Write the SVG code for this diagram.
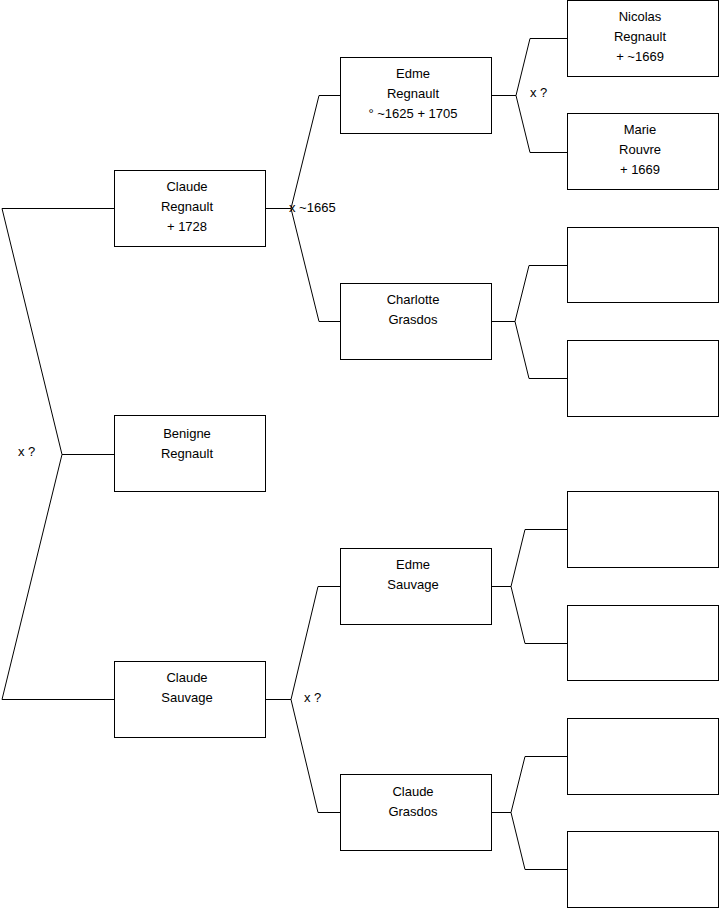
<svg xmlns="http://www.w3.org/2000/svg" width="719" height="908" viewBox="0 0 719 908">
<style>
.box{fill:#fff;stroke:#000;stroke-width:1}
.ln{fill:none;stroke:#000;stroke-width:1}
text{font-family:"Liberation Sans",Arial,sans-serif;font-size:13px;fill:#000}
.c{text-anchor:middle}
</style>
<rect width="719" height="908" fill="#fff"/>
<g id="connectors">
<path class="ln" d="M114,208.5 H2 L62,454.5 H114 M62,454.5 L2,699.5 H114"/>
<path class="ln" d="M265,208.5 H291 L319,95.5 H341 M291,208.5 L319,321.5 H341"/>
<path class="ln" d="M265,699.5 H291 L318,586.5 H341 M291,699.5 L318,812.5 H341"/>
<path class="ln" d="M491,95.5 H516 L530,38.5 H567 M516,95.5 L530,152.5 H567"/>
<path class="ln" d="M491,321.5 H515 L529,265.5 H567 M515,321.5 L529,378.5 H567"/>
<path class="ln" d="M491,586.5 H511 L525,529.5 H567 M511,586.5 L525,643.5 H567"/>
<path class="ln" d="M491,812.5 H511 L525,756.5 H567 M511,812.5 L525,869.5 H567"/>
<text x="289" y="212">x ~1665</text>
<text x="18" y="456">x ?</text>
<text x="530" y="97">x ?</text>
<text x="304" y="702">x ?</text>
</g>
<g id="claude-regnault"><rect class="box" x="114.5" y="170.5" width="151" height="76"/>
<text class="c" x="187" y="191">Claude</text><text class="c" x="187" y="211">Regnault</text><text class="c" x="187" y="231">+ 1728</text></g>
<g id="benigne-regnault"><rect class="box" x="114.5" y="415.5" width="151" height="76"/>
<text class="c" x="187" y="438">Benigne</text><text class="c" x="187" y="458">Regnault</text></g>
<g id="claude-sauvage"><rect class="box" x="114.5" y="661.5" width="151" height="76"/>
<text class="c" x="187" y="682">Claude</text><text class="c" x="187" y="702">Sauvage</text></g>
<g id="edme-regnault"><rect class="box" x="340.5" y="57.5" width="151" height="76"/>
<text class="c" x="413" y="78">Edme</text><text class="c" x="413" y="98">Regnault</text><text class="c" x="413" y="118">° ~1625 + 1705</text></g>
<g id="charlotte-grasdos"><rect class="box" x="340.5" y="283.5" width="151" height="76"/>
<text class="c" x="413" y="304">Charlotte</text><text class="c" x="413" y="324">Grasdos</text></g>
<g id="edme-sauvage"><rect class="box" x="340.5" y="548.5" width="151" height="76"/>
<text class="c" x="413" y="569">Edme</text><text class="c" x="413" y="589">Sauvage</text></g>
<g id="claude-grasdos"><rect class="box" x="340.5" y="774.5" width="151" height="76"/>
<text class="c" x="413" y="796">Claude</text><text class="c" x="413" y="816">Grasdos</text></g>
<g id="nicolas-regnault"><rect class="box" x="567.5" y="0.5" width="151" height="76"/>
<text class="c" x="640" y="21">Nicolas</text><text class="c" x="640" y="41">Regnault</text><text class="c" x="640" y="61">+ ~1669</text></g>
<g id="marie-rouvre"><rect class="box" x="567.5" y="113.5" width="151" height="76"/>
<text class="c" x="640" y="134">Marie</text><text class="c" x="640" y="154">Rouvre</text><text class="c" x="640" y="174">+ 1669</text></g>
<g id="empty-1"><rect class="box" x="567.5" y="227.5" width="151" height="75"/></g>
<g id="empty-2"><rect class="box" x="567.5" y="340.5" width="151" height="76"/></g>
<g id="empty-3"><rect class="box" x="567.5" y="491.5" width="151" height="76"/></g>
<g id="empty-4"><rect class="box" x="567.5" y="605.5" width="151" height="75"/></g>
<g id="empty-5"><rect class="box" x="567.5" y="718.5" width="151" height="76"/></g>
<g id="empty-6"><rect class="box" x="567.5" y="831.5" width="151" height="76"/></g>
</svg>
